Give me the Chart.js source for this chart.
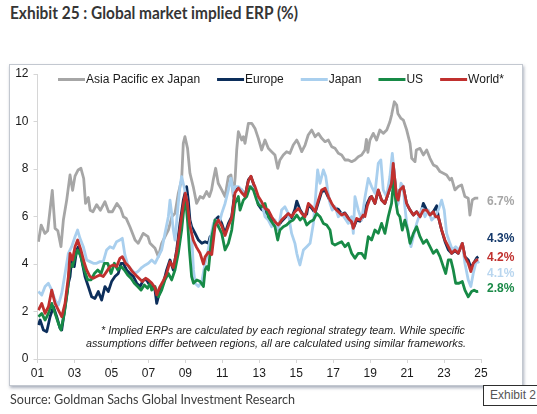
<!DOCTYPE html>
<html>
<head>
<meta charset="utf-8">
<script src="https://cdn.jsdelivr.net/npm/chart.js@4.4.1/dist/chart.umd.min.js"></script>
<style>
  html, body { margin:0; padding:0; background:#fff; width:537px; height:414px; overflow:hidden; }
  #title { position:absolute; left:10px; top:4px; font-family:Lato,"Open Sans","Liberation Sans",Arial,sans-serif; font-weight:bold; font-size:16.5px; line-height:18px; color:#353535; white-space:nowrap; transform-origin:0 0; }
  #frame { position:absolute; left:9px; top:64px; width:514px; height:322px; box-sizing:border-box; border:1px solid #c3c8d0; box-shadow:1px 2px 3px rgba(100,112,135,0.55); background:#fff; }
  #wrap { position:absolute; left:0; top:0; width:537px; height:414px; }
  #source { position:absolute; left:10px; top:391px; font-family:Lato,"Open Sans","Liberation Sans",Arial,sans-serif; font-size:14px; line-height:16px; color:#3d3d3d; white-space:nowrap; transform-origin:0 0; }
  #exhibit { position:absolute; left:483px; top:385px; width:70px; height:21px; box-sizing:border-box; border:1px solid #2e2e2e; background:#fff; font-family:"Liberation Sans",Arial,sans-serif; font-size:12px; line-height:18px; color:#555; padding-left:6px; white-space:nowrap; }
</style>
</head>
<body>
<div id="title">Exhibit 25 : Global market implied ERP (%)</div>
<div id="frame"></div>
<div id="wrap"><canvas id="c" width="537" height="414"></canvas></div>
<div id="source">Source: Goldman Sachs Global Investment Research</div>
<div id="exhibit">Exhibit 2</div>
<script>
// ---------------- DATA ----------------
const seriesNames = ["Asia Pacific ex Japan", "Europe", "Japan", "US", "World*"];

const asiaSeries = [[2001.05,4.94],[2001.2,5.64],[2001.4,5.29],[2001.55,5.4],[2001.8,7.1],[2001.95,5.5],[2002.1,5.4],[2002.27,4.73],[2002.4,5.85],[2002.58,6.69],[2002.76,7.75],[2002.9,7.1],[2003.03,7.7],[2003.2,7.96],[2003.35,8.03],[2003.5,7.6],[2003.6,6.55],[2003.75,6.8],[2003.85,6.26],[2004.0,6.2],[2004.2,6.5],[2004.4,6.26],[2004.65,6.62],[2004.85,6.2],[2005.05,6.2],[2005.3,6.55],[2005.5,6.33],[2005.65,5.99],[2005.8,5.92],[2006.0,5.57],[2006.28,5.01],[2006.45,4.87],[2006.72,5.29],[2006.98,5.15],[2007.09,4.87],[2007.36,4.66],[2007.54,4.31],[2007.72,4.87],[2007.9,5.15],[2008.08,5.43],[2008.27,5.99],[2008.44,6.13],[2008.62,6.98],[2008.8,7.54],[2008.89,9.08],[2008.98,9.36],[2009.12,8.87],[2009.25,7.82],[2009.43,7.25],[2009.61,6.55],[2009.8,6.84],[2009.97,6.77],[2010.15,7.05],[2010.3,6.84],[2010.42,7.12],[2010.51,7.54],[2010.64,8.03],[2010.78,7.4],[2010.97,7.12],[2011.15,6.84],[2011.33,7.68],[2011.47,7.75],[2011.6,6.84],[2011.7,7.68],[2011.78,8.8],[2011.87,9.57],[2012.05,9.22],[2012.14,9.36],[2012.23,9.08],[2012.41,9.92],[2012.6,9.92],[2012.77,9.71],[2012.95,9.29],[2013.13,8.8],[2013.31,9.22],[2013.49,8.87],[2013.67,8.73],[2013.85,8.59],[2014.0,8.03],[2014.12,8.38],[2014.3,8.59],[2014.48,8.73],[2014.66,8.66],[2014.84,9.01],[2015.03,9.22],[2015.12,9.08],[2015.3,8.73],[2015.48,9.01],[2015.65,9.43],[2015.84,9.64],[2016.02,9.36],[2016.2,9.5],[2016.38,9.29],[2016.56,9.15],[2016.74,9.22],[2016.92,8.94],[2017.1,8.87],[2017.28,8.66],[2017.46,8.59],[2017.64,8.38],[2017.82,8.38],[2018.0,8.31],[2018.18,8.38],[2018.36,8.52],[2018.54,8.59],[2018.72,8.8],[2018.8,9.25],[2018.88,8.7],[2018.99,9.22],[2019.17,9.5],[2019.35,9.22],[2019.53,9.64],[2019.71,9.5],[2019.9,9.64],[2020.07,9.99],[2020.16,10.27],[2020.31,10.83],[2020.44,10.69],[2020.5,10.34],[2020.67,10.13],[2020.8,10.06],[2020.98,9.64],[2021.16,9.08],[2021.25,8.45],[2021.43,8.31],[2021.5,8.8],[2021.7,8.87],[2021.88,8.59],[2022.06,8.8],[2022.24,8.45],[2022.42,8.17],[2022.6,8.1],[2022.78,7.89],[2022.96,7.82],[2023.14,7.75],[2023.32,7.54],[2023.41,7.61],[2023.59,7.12],[2023.77,7.26],[2023.95,7.33],[2024.13,6.84],[2024.31,6.77],[2024.4,6.06],[2024.53,6.7],[2024.67,6.77],[2024.85,6.77]];

const europeSeries = [[2001.05,1.43],[2001.14,1.64],[2001.32,1.22],[2001.5,1.15],[2001.68,1.78],[2001.86,2.2],[2002.04,1.78],[2002.22,1.29],[2002.31,1.22],[2002.49,2.2],[2002.67,3.19],[2002.76,3.47],[2002.85,4.17],[2002.99,3.89],[2003.12,4.59],[2003.21,4.73],[2003.39,4.17],[2003.57,3.47],[2003.75,3.05],[2003.93,2.62],[2004.11,2.55],[2004.29,2.84],[2004.47,2.48],[2004.65,3.05],[2004.83,2.84],[2005.01,3.26],[2005.19,3.47],[2005.37,3.6],[2005.52,4.03],[2005.64,4.03],[2005.82,3.75],[2006.0,3.6],[2006.19,3.47],[2006.37,3.19],[2006.55,3.05],[2006.73,3.33],[2006.91,3.33],[2007.0,3.2],[2007.18,3.05],[2007.36,2.9],[2007.45,2.34],[2007.63,2.9],[2007.81,3.19],[2007.99,3.75],[2008.17,4.17],[2008.35,3.75],[2008.53,4.59],[2008.71,5.71],[2008.89,6.69],[2009.07,7.26],[2009.16,6.69],[2009.25,5.85],[2009.34,5.57],[2009.53,5.29],[2009.71,5.01],[2009.89,4.87],[2010.07,4.94],[2010.25,4.87],[2010.34,5.15],[2010.43,4.73],[2010.61,5.85],[2010.79,5.99],[2010.97,5.71],[2011.15,5.29],[2011.33,5.71],[2011.51,5.99],[2011.69,7.12],[2011.87,7.19],[2012.05,7.12],[2012.23,6.84],[2012.41,7.54],[2012.55,7.68],[2012.68,7.4],[2012.86,6.84],[2012.95,6.5],[2013.13,6.3],[2013.31,6.2],[2013.49,6.1],[2013.67,5.9],[2013.85,5.7],[2014.03,5.6],[2014.21,5.8],[2014.39,5.95],[2014.57,6.1],[2014.75,5.95],[2014.93,6.3],[2015.03,6.65],[2015.2,6.3],[2015.39,6.05],[2015.57,6.1],[2015.66,6.5],[2015.84,6.35],[2016.02,6.15],[2016.2,6.6],[2016.38,7.05],[2016.56,7.1],[2016.74,6.8],[2016.92,6.5],[2017.1,6.35],[2017.28,6.3],[2017.46,6.1],[2017.64,6.15],[2017.82,5.95],[2018.0,5.75],[2018.09,5.5],[2018.27,5.85],[2018.45,5.8],[2018.63,6.0],[2018.81,6.5],[2018.99,6.8],[2019.08,6.84],[2019.26,6.55],[2019.44,7.1],[2019.62,6.69],[2019.8,6.55],[2019.98,6.98],[2020.16,7.4],[2020.25,8.2],[2020.34,7.5],[2020.43,6.84],[2020.52,6.69],[2020.61,7.12],[2020.79,7.26],[2020.97,6.55],[2021.16,6.27],[2021.34,6.06],[2021.52,6.2],[2021.7,5.99],[2021.88,6.55],[2022.06,6.27],[2022.24,6.06],[2022.42,6.2],[2022.6,6.45],[2022.69,5.99],[2022.87,5.43],[2023.05,4.95],[2023.23,4.6],[2023.41,4.45],[2023.59,4.55],[2023.77,4.45],[2023.99,4.87],[2024.13,4.3],[2024.31,4.17],[2024.45,3.85],[2024.58,4.0],[2024.76,4.25],[2024.85,4.31]];

const japanSeries = [[2001.05,2.84],[2001.23,2.69],[2001.41,3.05],[2001.59,3.19],[2001.77,2.9],[2001.95,2.48],[2002.13,2.27],[2002.31,2.76],[2002.49,3.6],[2002.67,4.45],[2002.85,4.73],[2003.03,5.15],[2003.17,5.43],[2003.3,5.08],[2003.48,4.73],[2003.66,4.17],[2003.84,4.1],[2004.02,4.03],[2004.2,4.03],[2004.38,4.1],[2004.56,4.1],[2004.74,4.59],[2004.92,4.73],[2005.1,4.66],[2005.28,4.94],[2005.46,5.01],[2005.59,5.08],[2005.73,4.38],[2005.91,3.89],[2006.1,3.75],[2006.28,3.6],[2006.46,3.7],[2006.64,3.85],[2006.82,3.95],[2007.0,4.03],[2007.18,4.17],[2007.36,4.03],[2007.54,4.31],[2007.72,4.59],[2007.9,5.29],[2008.08,5.99],[2008.17,6.69],[2008.26,6.13],[2008.35,5.43],[2008.44,5.01],[2008.53,5.78],[2008.62,6.55],[2008.71,7.26],[2008.8,7.68],[2008.95,7.19],[2009.07,6.69],[2009.16,5.99],[2009.34,5.29],[2009.44,3.75],[2009.53,3.19],[2009.71,3.05],[2009.89,3.26],[2010.07,4.03],[2010.16,4.31],[2010.34,5.01],[2010.52,5.71],[2010.64,5.85],[2010.79,5.57],[2010.97,6.13],[2011.15,6.55],[2011.33,7.12],[2011.47,7.61],[2011.6,6.98],[2011.69,7.26],[2011.87,7.26],[2012.05,7.12],[2012.23,6.84],[2012.41,7.12],[2012.59,7.26],[2012.77,7.12],[2012.95,6.69],[2013.13,6.55],[2013.31,5.99],[2013.49,5.85],[2013.67,5.57],[2013.85,5.85],[2014.03,5.43],[2014.21,6.27],[2014.39,6.41],[2014.57,6.13],[2014.75,5.29],[2014.93,4.87],[2015.03,4.45],[2015.12,4.17],[2015.2,3.96],[2015.39,4.59],[2015.57,4.73],[2015.75,4.87],[2015.93,5.71],[2016.05,6.84],[2016.16,7.96],[2016.29,7.4],[2016.47,7.96],[2016.6,7.68],[2016.7,7.12],[2016.83,6.55],[2016.95,6.27],[2017.1,6.41],[2017.28,5.99],[2017.46,6.13],[2017.64,5.92],[2017.82,5.71],[2018.0,5.99],[2018.09,5.29],[2018.18,6.84],[2018.36,6.27],[2018.54,5.85],[2018.72,6.8],[2018.9,7.6],[2019.08,7.26],[2019.26,6.98],[2019.44,8.24],[2019.58,8.38],[2019.71,7.12],[2019.89,6.84],[2020.07,7.68],[2020.2,8.66],[2020.31,7.82],[2020.43,6.41],[2020.52,6.55],[2020.67,7.4],[2020.79,7.26],[2020.88,6.41],[2020.98,5.71],[2021.07,5.29],[2021.21,4.73],[2021.34,5.15],[2021.52,5.71],[2021.7,6.13],[2021.82,6.34],[2021.97,5.99],[2022.15,6.27],[2022.33,5.85],[2022.51,5.99],[2022.69,6.27],[2022.87,6.69],[2023.01,6.27],[2023.14,5.29],[2023.32,4.87],[2023.45,4.59],[2023.63,4.73],[2023.81,4.59],[2023.99,4.87],[2024.13,4.03],[2024.31,3.33],[2024.45,3.05],[2024.58,3.6],[2024.76,4.17],[2024.89,4.03]];

const usSeries = [[2001.05,1.78],[2001.23,1.92],[2001.41,1.64],[2001.59,1.92],[2001.77,2.34],[2001.95,1.92],[2002.13,1.5],[2002.27,1.22],[2002.45,1.92],[2002.63,2.9],[2002.76,4.03],[2002.89,3.89],[2003.03,4.31],[2003.17,4.59],[2003.35,4.31],[2003.53,3.75],[2003.72,3.33],[2003.9,3.33],[2004.08,3.6],[2004.26,3.75],[2004.44,3.6],[2004.62,4.03],[2004.8,4.03],[2004.98,3.6],[2005.16,4.03],[2005.34,3.75],[2005.52,3.89],[2005.7,3.75],[2005.88,3.54],[2006.06,3.4],[2006.24,3.19],[2006.42,3.05],[2006.6,2.9],[2006.78,3.12],[2006.96,2.98],[2007.09,3.19],[2007.18,2.9],[2007.36,3.05],[2007.54,2.62],[2007.72,2.9],[2007.9,3.33],[2008.08,3.6],[2008.26,3.33],[2008.44,3.75],[2008.62,4.45],[2008.8,5.43],[2008.95,6.55],[2009.02,6.69],[2009.13,5.71],[2009.22,4.59],[2009.34,3.47],[2009.44,3.19],[2009.62,3.33],[2009.8,3.26],[2009.98,3.05],[2010.07,3.75],[2010.16,3.89],[2010.25,3.75],[2010.43,5.15],[2010.61,5.85],[2010.79,5.57],[2010.97,5.29],[2011.15,4.59],[2011.33,4.87],[2011.51,5.43],[2011.69,6.55],[2011.87,6.84],[2011.96,6.27],[2012.14,6.69],[2012.32,6.84],[2012.5,7.26],[2012.68,7.12],[2012.86,6.69],[2012.95,6.5],[2013.13,6.41],[2013.31,6.55],[2013.49,5.99],[2013.67,5.78],[2013.85,5.57],[2014.0,5.01],[2014.12,5.43],[2014.3,5.57],[2014.48,5.64],[2014.66,5.78],[2014.84,5.85],[2015.03,6.06],[2015.21,5.85],[2015.39,5.99],[2015.57,5.64],[2015.75,5.78],[2015.93,5.85],[2016.11,6.13],[2016.29,5.99],[2016.47,5.71],[2016.65,5.64],[2016.83,5.43],[2016.95,4.87],[2017.1,4.8],[2017.28,4.87],[2017.46,4.94],[2017.64,4.73],[2017.82,4.87],[2018.0,4.45],[2018.18,4.24],[2018.36,4.45],[2018.54,4.45],[2018.72,4.24],[2018.9,5.15],[2019.08,5.01],[2019.26,5.43],[2019.44,5.29],[2019.62,5.71],[2019.8,5.29],[2019.98,5.99],[2020.16,6.55],[2020.27,7.54],[2020.38,6.69],[2020.49,6.13],[2020.61,5.99],[2020.74,5.43],[2020.88,5.85],[2021.03,5.43],[2021.16,4.87],[2021.34,5.29],[2021.52,5.57],[2021.7,5.15],[2021.88,4.87],[2022.06,5.01],[2022.24,4.73],[2022.42,4.45],[2022.6,4.59],[2022.78,4.31],[2022.96,3.89],[2023.09,3.6],[2023.23,4.17],[2023.37,4.17],[2023.5,3.75],[2023.63,3.19],[2023.81,3.19],[2023.99,3.26],[2024.13,2.9],[2024.31,2.62],[2024.49,2.84],[2024.63,2.9],[2024.76,2.84],[2024.85,2.85]];

const worldSeries = [[2001.05,2.06],[2001.23,2.34],[2001.41,1.92],[2001.59,2.2],[2001.77,2.9],[2001.95,2.34],[2002.13,2.06],[2002.31,1.78],[2002.49,2.34],[2002.67,3.47],[2002.76,4.45],[2002.89,4.17],[2003.03,4.73],[2003.17,5.01],[2003.35,4.59],[2003.54,4.03],[2003.66,3.75],[2003.84,3.47],[2004.02,3.4],[2004.2,3.47],[2004.38,3.54],[2004.56,3.47],[2004.74,3.68],[2004.92,3.89],[2005.1,3.96],[2005.28,3.89],[2005.46,4.24],[2005.59,4.31],[2005.77,4.03],[2005.95,3.89],[2006.13,3.68],[2006.31,3.54],[2006.49,3.4],[2006.67,3.26],[2006.85,3.4],[2007.0,3.33],[2007.18,3.2],[2007.36,3.0],[2007.45,2.7],[2007.63,3.05],[2007.81,3.3],[2007.99,3.6],[2008.17,4.1],[2008.35,3.85],[2008.53,4.5],[2008.71,5.5],[2008.89,6.5],[2009.0,6.98],[2009.1,6.6],[2009.25,5.6],[2009.43,5.0],[2009.61,4.7],[2009.8,4.45],[2009.98,4.0],[2010.07,4.3],[2010.25,4.5],[2010.43,4.4],[2010.61,5.6],[2010.79,5.85],[2010.97,5.6],[2011.15,5.2],[2011.33,5.6],[2011.51,5.95],[2011.69,7.0],[2011.87,7.2],[2012.05,7.0],[2012.23,6.85],[2012.41,7.5],[2012.55,7.7],[2012.68,7.4],[2012.77,7.26],[2012.95,6.84],[2013.13,6.62],[2013.31,6.34],[2013.49,6.27],[2013.67,5.99],[2013.85,5.78],[2014.03,5.64],[2014.21,5.85],[2014.39,5.99],[2014.57,6.13],[2014.75,5.99],[2014.93,6.2],[2015.12,6.34],[2015.3,6.13],[2015.48,5.99],[2015.66,6.55],[2015.84,6.41],[2016.02,6.2],[2016.2,6.69],[2016.38,7.12],[2016.56,7.19],[2016.74,6.84],[2016.92,6.55],[2017.1,6.34],[2017.28,6.2],[2017.46,6.06],[2017.64,6.13],[2017.82,5.92],[2018.0,5.78],[2018.09,5.5],[2018.27,5.92],[2018.45,5.85],[2018.63,6.06],[2018.72,6.0],[2018.85,6.45],[2018.99,6.75],[2019.08,6.84],[2019.26,6.55],[2019.44,7.12],[2019.62,6.69],[2019.8,6.55],[2019.98,6.98],[2020.16,7.4],[2020.25,8.24],[2020.34,7.54],[2020.43,6.84],[2020.52,6.69],[2020.61,7.12],[2020.79,7.26],[2020.97,6.55],[2021.16,6.27],[2021.34,6.06],[2021.52,6.2],[2021.7,5.99],[2021.88,6.27],[2022.06,6.27],[2022.24,6.06],[2022.42,6.2],[2022.54,5.99],[2022.69,5.99],[2022.87,5.43],[2023.05,5.01],[2023.23,4.73],[2023.41,4.45],[2023.59,4.59],[2023.77,4.45],[2023.99,4.87],[2024.13,4.31],[2024.31,4.03],[2024.45,3.68],[2024.58,4.03],[2024.76,4.17],[2024.85,4.17]];

const xTickYears = [2001,2003,2005,2007,2009,2011,2013,2015,2017,2019,2021,2023,2025];
const yTickValues = [0,2,4,6,8,10,12];
const endLabels = ["6.7%","4.3%","4.2%","4.1%","2.8%"];
const endLabelAnchors = [6.62, 5.05, 4.28, 3.61, 2.98];   // value-axis positions of the end labels
const footnoteLines = [
  "* Implied ERPs are calculated by each regional strategy team. While specific",
  "assumptions differ between regions, all are calculated using similar frameworks."
];

// ---------------- STYLE ----------------
const lineColors = ["#A6A6A6", "#0C2E5B", "#A9CFEE", "#178A46", "#C0302E"];
const labelColors = ["#A6A6A6", "#14386A", "#C0302E", "#B9D6EF", "#1B8A48"];
const FONT = "'Liberation Sans', Arial, sans-serif";

// fit the header/footer text to the reference widths
function fitWidth(id, target) {
  const el = document.getElementById(id);
  const w = el.getBoundingClientRect().width;
  if (w > 0) el.style.transform = 'scaleX(' + (target / w) + ')';
}
fitWidth('title', 288);
fitWidth('source', 285);

const allSeries = [asiaSeries, europeSeries, japanSeries, usSeries, worldSeries];
const datasets = allSeries.map((s, i) => ({
  label: seriesNames[i],
  data: s.map(p => ({ x: p[0], y: p[1] })),
  borderColor: lineColors[i],
  backgroundColor: lineColors[i],
  borderWidth: 2.8,
  pointRadius: 0,
  tension: 0,
  fill: false,
  order: allSeries.length - i,
  borderJoinStyle: 'round'
}));

const decorPlugin = {
  id: 'decor',
  afterDraw(chart) {
    const ctx = chart.ctx;
    const area = chart.chartArea;
    const ys = chart.scales.y;
    ctx.save();
    // legend
    ctx.font = "12px " + FONT;
    ctx.textBaseline = 'middle';
    ctx.textAlign = 'left';
    let lx = 58;
    const ly = 79.5;
    seriesNames.forEach((name, i) => {
      ctx.strokeStyle = lineColors[i];
      ctx.lineWidth = 3;
      ctx.lineCap = 'butt';
      ctx.beginPath();
      ctx.moveTo(lx, ly);
      ctx.lineTo(lx + 27, ly);
      ctx.stroke();
      ctx.fillStyle = '#1a1a1a';
      ctx.fillText(name, lx + 28, ly);
      lx += 28 + ctx.measureText(name).width + 17;
    });
    // footnote
    ctx.font = "italic 11px " + FONT;
    ctx.textAlign = 'right';
    ctx.fillStyle = '#222';
    ctx.fillText(footnoteLines[0], 465, 331, 364);
    ctx.fillText(footnoteLines[1], 466, 344, 380);
    // end labels
    ctx.font = "bold 12px " + FONT;
    ctx.textAlign = 'left';
    endLabels.forEach((t, i) => {
      ctx.fillStyle = labelColors[i];
      ctx.fillText(t, area.right + 6, ys.getPixelForValue(endLabelAnchors[i]));
    });
    ctx.restore();
  }
};

new Chart(document.getElementById('c'), {
  type: 'line',
  data: { datasets },
  options: {
    responsive: false,
    animation: false,
    devicePixelRatio: 1,
    layout: { padding: { left: 10, right: 56, top: 74, bottom: 27 } },
    plugins: { legend: { display: false }, tooltip: { enabled: false } },
    scales: {
      x: {
        type: 'linear',
        min: xTickYears[0],
        max: xTickYears[xTickYears.length - 1],
        afterBuildTicks: (scale) => { scale.ticks = xTickYears.map(v => ({ value: v })); },
        afterFit: (scale) => { scale.height = 28; },
        ticks: {
          autoSkip: false, maxRotation: 0, padding: 3,
          color: '#1a1a1a', font: { family: FONT, size: 12 },
          callback: (v) => String(v % 100).padStart(2, '0')
        },
        grid: { drawOnChartArea: false, drawTicks: true, tickLength: 4, color: '#d6d6d6' },
        border: { color: '#d6d6d6', width: 1 }
      },
      y: {
        min: yTickValues[0],
        max: yTickValues[yTickValues.length - 1],
        afterBuildTicks: (scale) => { scale.ticks = yTickValues.map(v => ({ value: v })); },
        afterFit: (scale) => { scale.width = 27.5; },
        ticks: { padding: 5, color: '#1a1a1a', font: { family: FONT, size: 12 } },
        grid: { drawOnChartArea: false, drawTicks: true, tickLength: 4, color: '#d6d6d6' },
        border: { color: '#d6d6d6', width: 1 }
      }
    }
  },
  plugins: [decorPlugin]
});
</script>
</body>
</html>
